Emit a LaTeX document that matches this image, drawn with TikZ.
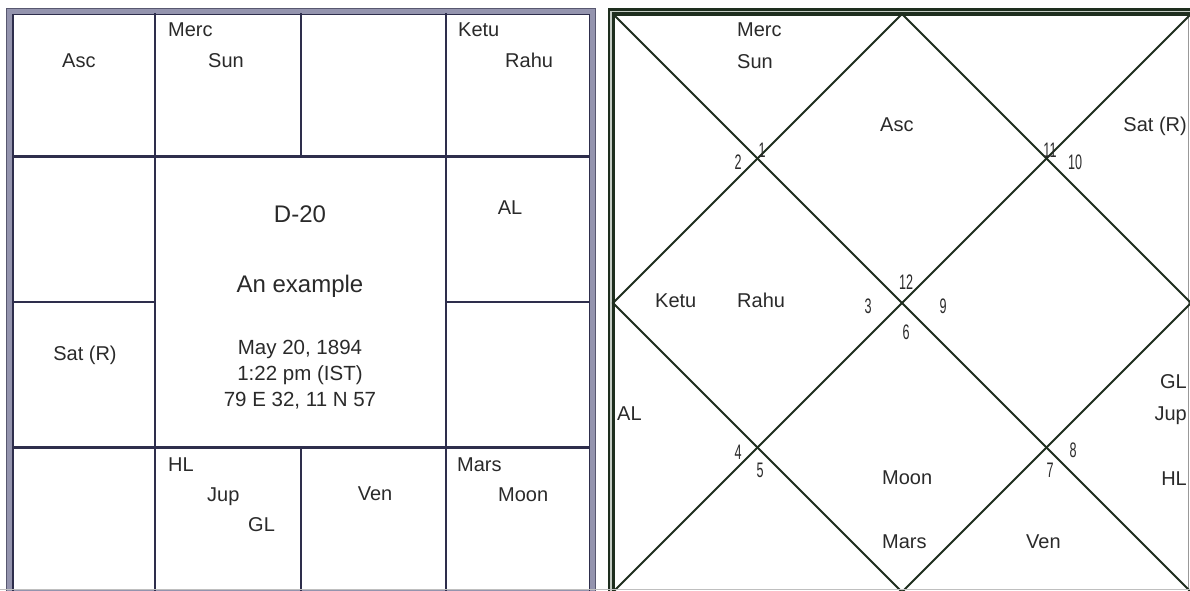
\documentclass[tikz,border=0pt]{standalone}
\usepackage{fontspec}
\usepackage{graphicx}
\setmainfont{Liberation Sans}
\definecolor{navy}{HTML}{2E2E4C}
\definecolor{navylight}{HTML}{9494AE}
\definecolor{dkgreen}{HTML}{1E2E1E}
\definecolor{grlight}{HTML}{C4CCC4}
\definecolor{txt}{HTML}{2A2A2A}
\newcommand{\hnum}[1]{\scalebox{0.6}[1]{#1}}
\begin{document}
\begin{tikzpicture}[x=1pt,y=-1pt,
  pl/.style={anchor=base west, inner sep=0pt, text=txt, font=\fontsize{20}{20}\selectfont},
  pr/.style={anchor=base east, inner sep=0pt, text=txt, font=\fontsize{20}{20}\selectfont},
  plc/.style={anchor=base, inner sep=0pt, text=txt, font=\fontsize{20}{20}\selectfont},
  hn/.style={anchor=center, inner sep=0pt, text=txt, font=\fontsize{21}{21}\selectfont},
  gridl/.style={line width=2.6pt, draw=navy},
  diag/.style={line width=2pt, draw=dkgreen}]
\useasboundingbox (0,0) rectangle (1190,590);
\fill[white] (0,0) rectangle (1190,590);
\begin{scope}
\clip (0,0) rectangle (1190,590);
% ---------- left chart (South Indian) ----------
\draw[line width=6.5pt, navylight] (10,11.5) rectangle (592.5,593);
\draw[line width=1pt, navy!80] (6.9,8.4) rectangle (595.6,596.1);
\draw[line width=1.6pt, navy] (13.1,14.6) rectangle (589.4,596);
\draw[gridl] (155,13) -- (155,593);
\draw[gridl] (446,13) -- (446,593);
\draw[gridl] (301,13) -- (301,156.5);
\draw[gridl] (301,447.5) -- (301,593);
\draw[gridl] (13,156.5) -- (590,156.5);
\draw[gridl] (13,447.5) -- (590,447.5);
\draw[gridl] (13,302) -- (155,302);
\draw[gridl] (446,302) -- (590,302);
% texts
\node[pl] (lasc) at (62,67) {Asc};
\node[pl] (lmerc) at (168,36) {Merc};
\node[pl] (lsun) at (208,67) {Sun};
\node[pl] (lketu) at (458,36) {Ketu};
\node[pl] (lrahu) at (505,67) {Rahu};
\node[plc] (lal) at (510,214) {AL};
\node[plc] (lsat) at (85,360) {Sat (R)};
\node[pl] (lhl) at (168,471) {HL};
\node[pl] (ljup) at (207,501) {Jup};
\node[pl] (lgl) at (248,531) {GL};
\node[plc] (lven) at (375,500) {Ven};
\node[pl] (lmars) at (457,471) {Mars};
\node[pl] (lmoon) at (498,501) {Moon};
\node[plc, font=\fontsize{24}{24}\selectfont] (title) at (300,222) {D-20};
\node[plc, font=\fontsize{24}{24}\selectfont] (sub) at (300,292) {An example};
\node[plc, font=\fontsize{20.5}{20.5}\selectfont] (d1) at (300,354) {May 20, 1894};
\node[plc, font=\fontsize{20.5}{20.5}\selectfont] (d2) at (300,380) {1:22 pm (IST)};
\node[plc, font=\fontsize{20.5}{20.5}\selectfont] (d3) at (300,406) {79 E 32, 11 N 57};
% ---------- right chart (North Indian) ----------
\draw[line width=6.5pt, dkgreen] (611,596) -- (611,11.5) -- (1195,11.5);
\draw[line width=1.5pt, grlight] (611,596) -- (611,11.5) -- (1195,11.5);
\draw[line width=1.5pt, dkgreen] (614.5,596) -- (614.5,15) -- (1195,15);
\draw[line width=1pt, black!40] (1188.5,15) -- (1188.5,596);
\coordinate (tl) at (613,14);
\coordinate (tr) at (1191,14);
\coordinate (bl) at (613,592);
\coordinate (br) at (1191,592);
\coordinate (tm) at (902,14);
\coordinate (bm) at (902,592);
\coordinate (lm) at (613,303);
\coordinate (rm) at (1191,303);
\draw[diag] (tl) -- (br);
\draw[diag] (tr) -- (bl);
\draw[diag] (tm) -- (lm) -- (bm) -- (rm) -- cycle;
\node[pl] (rmerc) at (737,36) {Merc};
\node[pl] (rsun) at (737,68) {Sun};
\node[pl] (rasc) at (880,131) {Asc};
\node[pr] (rsat) at (1187,131) {Sat (R)};
\node[pl] (rketu) at (655,307) {Ketu};
\node[pl] (rrahu) at (737,307) {Rahu};
\node[pl] (ral) at (617,420) {AL};
\node[pl] (rmoon) at (882,484) {Moon};
\node[pl] (rmars) at (882,548) {Mars};
\node[pl] (rven) at (1026,548) {Ven};
\node[pr] (rgl) at (1187,388) {GL};
\node[pr] (rjup) at (1187,420) {Jup};
\node[pr] (rhl) at (1187,485) {HL};
\node[hn] (n1) at (762,150) {\hnum{1}};
\node[hn] (n2) at (738,162) {\hnum{2}};
\node[hn] (n11) at (1050,150) {\hnum{11}};
\node[hn] (n10) at (1075,162) {\hnum{10}};
\node[hn] (n12) at (906,282) {\hnum{12}};
\node[hn] (n3) at (868,306) {\hnum{3}};
\node[hn] (n9) at (943,306) {\hnum{9}};
\node[hn] (n6) at (906,332) {\hnum{6}};
\node[hn] (n4) at (738,452) {\hnum{4}};
\node[hn] (n5) at (760,470) {\hnum{5}};
\node[hn] (n8) at (1073,450) {\hnum{8}};
\node[hn] (n7) at (1050,470) {\hnum{7}};
\draw[line width=1pt, black!25] (0,589.5) -- (1190,589.5);
\end{scope}
\end{tikzpicture}
\end{document}
